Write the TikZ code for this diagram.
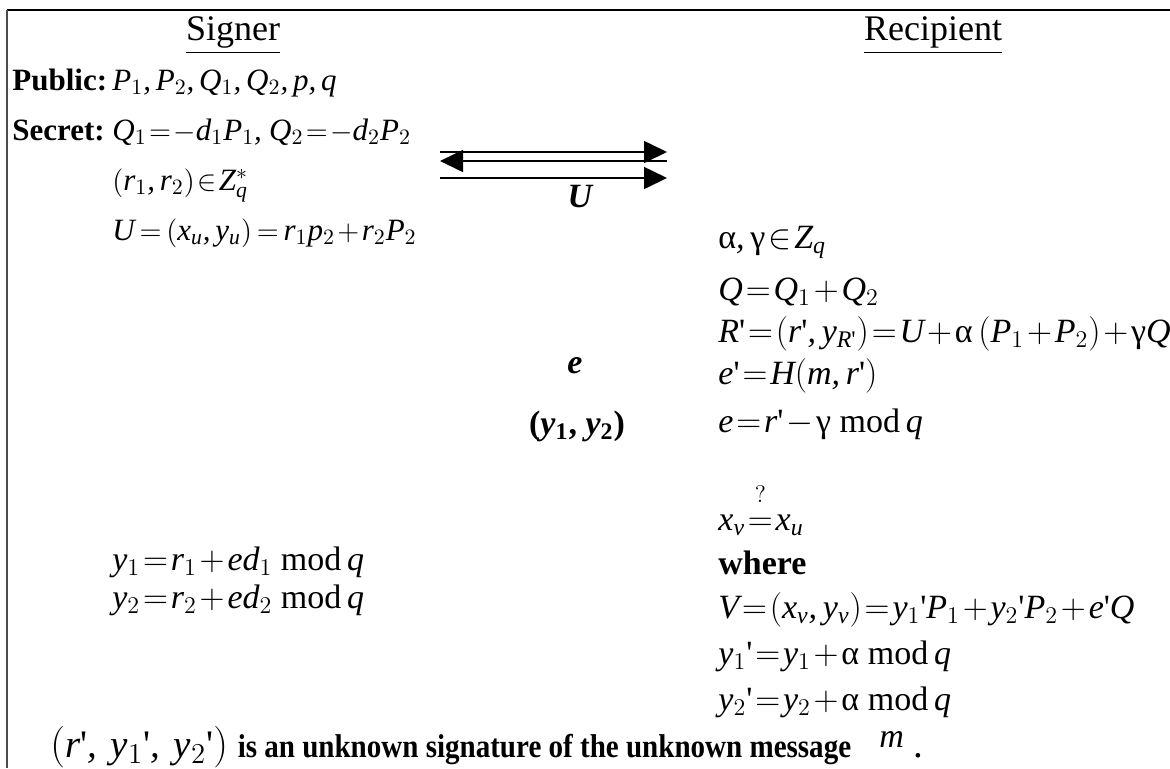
\documentclass[tikz,border=0pt]{standalone}
\usepackage{amsmath}
\usepackage{graphicx}
\usepackage{fontspec}
\setmainfont{Liberation Serif}
\newfontfamily\mathitfam[NFSSFamily=lsr]{Liberation Serif}
\DeclareSymbolFont{letters}{TU}{lsr}{m}{it}
\mathcode`\,="612C
\thickmuskip=1.5mu
\medmuskip=1.5mu
\usepackage{tikz}
\usetikzlibrary{arrows.meta}

\newcommand{\ua}{\text{α}}
\newcommand{\ug}{\text{γ}}
\newcommand{\pr}{\text{\textquotesingle}}
\newcommand{\md}{\ \mathrm{mod}\,}

\begin{document}
\begin{tikzpicture}[x=0.5pt,y=-0.5pt,>={Triangle[length=11.5pt,width=11pt]},
	eqn/.style={anchor=base west,inner sep=0pt,font=\fontsize{15.5}{18}\selectfont},
	eqnbig/.style={anchor=base west,inner sep=0pt,font=\fontsize{17}{20}\selectfont},
	lbl/.style={anchor=base west,inner sep=0pt,font=\fontsize{15.5}{18}\selectfont\bfseries},
	title/.style={anchor=base,inner sep=0pt,font=\fontsize{18}{20}\selectfont},
	msg/.style={inner sep=0pt,font=\fontsize{17}{20}\selectfont\bfseries\itshape}]
		
		\useasboundingbox (0,0) rectangle (1170,768);
		
		%----------------------------------------
		% Frame
		%----------------------------------------
		\coordinate (TL) at (7,10);
		\draw[line width=1pt] (TL) -- (1170,10);
		\draw[line width=1pt,black!70] (TL) -- (7,768);
		
		%----------------------------------------
		% Headings
		%----------------------------------------
		\node[title] (signer) at (233,40) {\underline{Signer}};
		\node[title] (recip) at (933,40) {\underline{Recipient}};
		
		%----------------------------------------
		% Signer side
		%----------------------------------------
		\node[lbl] (publbl) at (12,90) {Public:};
		\node[eqn] (pubval) at (112,90) {$P_1, P_2, Q_1, Q_2, p, q$};
		\node[lbl] (seclbl) at (12,140) {Secret:};
		\node[eqn] (secval) at (112,140) {$Q_1=-d_1P_1,\; Q_2=-d_2P_2$};
		\node[eqn] (rpair) at (112,190) {$(r_1,r_2)\in Z_q^{*}$};
		\node[eqn] (ueq) at (112,240) {$U\;=\;(x_u,y_u)\;=\;r_1p_2+r_2P_2$};
		
		\node[eqnbig] (yone) at (112,570) {$y_1=r_1+ed_1\md q$};
		\node[eqnbig] (ytwo) at (112,608) {$y_2=r_2+ed_2\md q$};
		
		%----------------------------------------
		% Messages between the two
		%----------------------------------------
		\coordinate (A1) at (440,152);
		\coordinate (B1) at (667,152);
		\coordinate (A2) at (440,161);
		\coordinate (B2) at (667,161);
		\coordinate (A3) at (440,178);
		\coordinate (B3) at (667,178);
		
		\draw[->,line width=0.8pt] (A1) -- (B1);
		\draw[->,line width=0.8pt] (B2) -- (A2);
		\draw[->,line width=0.8pt] (A3) -- (B3);
		
		\node[msg] (mU) at (580,197) {U};
		\node[msg] (me) at (575,366) {e};
		\node[msg] (my) at (577,426) {\upshape(\textit{y}\textsubscript{1}, \textit{y}\textsubscript{2})};
		
		%----------------------------------------
		% Recipient side
		%----------------------------------------
		\node[eqnbig] (ag) at (718,248) {$\ua,\ug\in Z_q$};
		\node[eqnbig] (qsum) at (718,300) {$Q=Q_1+Q_2$};
		\node[eqnbig] (rprime) at (718,342) {$R\pr=(r\pr,y_{R\pr})=U+\ua\,(P_1+P_2)+\ug Q$};
		\node[eqnbig] (eprime) at (718,384) {$e\pr=H(m,r\pr)$};
		\node[eqnbig] (eblind) at (718,432) {$e=r\pr-\ug\md q$};
		
		\node[eqnbig] (check) at (718,530) {$x_v\overset{\raisebox{4pt}{$\scriptstyle ?$}}{=}x_u$};
		\node[lbl,font=\fontsize{17}{20}\selectfont\bfseries] (where) at (718,574) {where};
		\node[eqnbig] (veq) at (718,618) {$V=(x_v,y_v)=y_1\pr P_1+y_2\pr P_2+e\pr Q$};
		\node[eqnbig] (yonep) at (718,664) {$y_1\pr=y_1+\ua\md q$};
		\node[eqnbig] (ytwop) at (718,710) {$y_2\pr=y_2+\ua\md q$};
		
		%----------------------------------------
		% Result
		%----------------------------------------
		\node[eqnbig,font=\fontsize{19.5}{22}\selectfont] (result) at (50,757) {$(r\pr,\,y_1\pr,\,y_2\pr)$ \scalebox{0.88}[1]{\fontsize{16.5}{20}\selectfont\bfseries is an unknown signature of the unknown message}\hspace{14pt}\raisebox{5pt}{\fontsize{17}{20}\selectfont$m$}\hspace{5pt}.};
		
	\end{tikzpicture}
\end{document}
